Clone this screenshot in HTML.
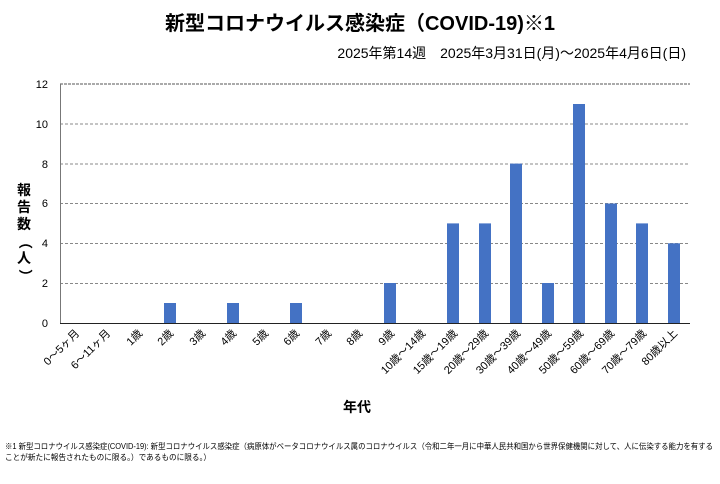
<!DOCTYPE html><html><head><meta charset="utf-8"><style>body{margin:0;background:#fff}svg{display:block}text{font-family:"Liberation Sans","Noto Sans CJK JP",sans-serif}</style></head><body>
<svg width="720" height="484" xmlns="http://www.w3.org/2000/svg">
<text x="360" y="30" text-anchor="middle" font-size="20" font-weight="bold">新型コロナウイルス感染症（COVID-19)※1</text>
<text x="686" y="58" text-anchor="end" font-size="14">2025年第14週　2025年3月31日(月)～2025年4月6日(日)</text>
<g stroke="#888" stroke-dasharray="3,2" stroke-width="1">
<line x1="60" y1="283.5" x2="690" y2="283.5"/><line x1="60" y1="243.5" x2="690" y2="243.5"/><line x1="60" y1="203.5" x2="690" y2="203.5"/><line x1="60" y1="164" x2="690" y2="164"/><line x1="60" y1="124" x2="690" y2="124"/></g>
<line x1="60" y1="84" x2="690" y2="84" stroke="#555" stroke-dasharray="3,1"/>
<line x1="60.5" y1="84" x2="60.5" y2="323" stroke="#777"/>
<g font-size="11" text-anchor="end"><text x="48" y="327">0</text><text x="48" y="287">2</text><text x="48" y="247">4</text><text x="48" y="207">6</text><text x="48" y="168">8</text><text x="48" y="128">10</text><text x="48" y="88">12</text></g>
<g fill="#4472c4">
<rect x="164" y="303" width="12" height="20"/><rect x="227" y="303" width="12" height="20"/><rect x="290" y="303" width="12" height="20"/><rect x="384" y="283" width="12" height="40"/>
<rect x="447" y="223.4" width="12" height="99.6"/><rect x="479" y="223.4" width="12" height="99.6"/><rect x="510" y="163.6" width="12" height="159.4"/><rect x="542" y="283" width="12" height="40"/><rect x="573" y="104" width="12" height="219"/><rect x="605" y="203.5" width="12" height="119.5"/><rect x="636" y="223.4" width="12" height="99.6"/><rect x="668" y="243.3" width="12" height="79.7"/></g>
<line x1="60" y1="323.5" x2="690" y2="323.5" stroke="#222"/>
<g font-size="11" text-anchor="end">
<text transform="translate(80,334) rotate(-45)">0～5ヶ月</text>
<text transform="translate(111,334) rotate(-45)">6～11ヶ月</text>
<text transform="translate(143,334) rotate(-45)">1歳</text>
<text transform="translate(174,334) rotate(-45)">2歳</text>
<text transform="translate(206,334) rotate(-45)">3歳</text>
<text transform="translate(237,334) rotate(-45)">4歳</text>
<text transform="translate(269,334) rotate(-45)">5歳</text>
<text transform="translate(300,334) rotate(-45)">6歳</text>
<text transform="translate(332,334) rotate(-45)">7歳</text>
<text transform="translate(363,334) rotate(-45)">8歳</text>
<text transform="translate(395,334) rotate(-45)">9歳</text>
<text transform="translate(426,334) rotate(-45)">10歳～14歳</text>
<text transform="translate(458,334) rotate(-45)">15歳～19歳</text>
<text transform="translate(489,334) rotate(-45)">20歳～29歳</text>
<text transform="translate(521,334) rotate(-45)">30歳～39歳</text>
<text transform="translate(552,334) rotate(-45)">40歳～49歳</text>
<text transform="translate(584,334) rotate(-45)">50歳～59歳</text>
<text transform="translate(615,334) rotate(-45)">60歳～69歳</text>
<text transform="translate(647,334) rotate(-45)">70歳～79歳</text>
<text transform="translate(678,334) rotate(-45)">80歳以上</text></g>
<text x="357" y="412" text-anchor="middle" font-size="14" font-weight="bold">年代</text>
<g font-size="14" font-weight="bold" text-anchor="middle"><text x="24" y="195">報</text><text x="24" y="212">告</text><text x="24" y="229">数</text><text x="24" y="246" transform="rotate(90 24 242)">（</text><text x="24" y="263">人</text><text x="24" y="280" transform="rotate(90 24 276)">）</text></g>
<text x="5" y="449" font-size="8" textLength="708" lengthAdjust="spacingAndGlyphs">※1 新型コロナウイルス感染症(COVID-19): 新型コロナウイルス感染症（病原体がベータコロナウイルス属のコロナウイルス（令和二年一月に中華人民共和国から世界保健機関に対して、人に伝染する能力を有する</text>
<text x="5" y="460" font-size="8" textLength="206" lengthAdjust="spacingAndGlyphs">ことが新たに報告されたものに限る。）であるものに限る。）</text>
</svg></body></html>
